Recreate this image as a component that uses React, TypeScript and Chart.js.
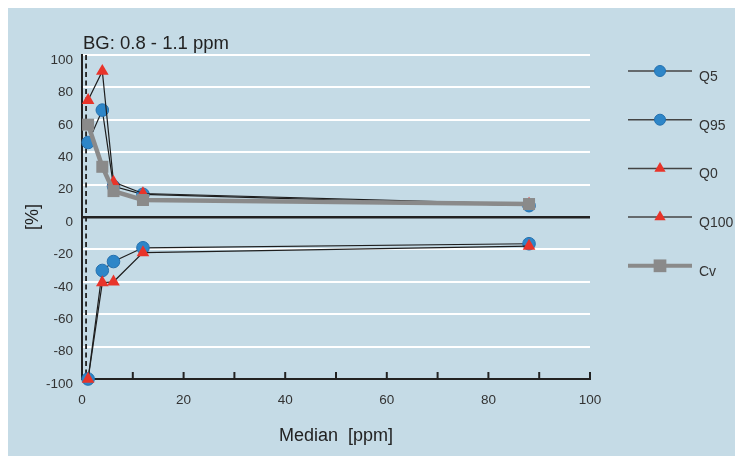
import { useEffect, useRef } from "react";
import { Chart, registerables } from "chart.js";
Chart.register(...registerables);

// ---- data ----
const medians = [1.2, 4, 6.2, 12, 88];
const q5 = [-100, -33, -27.5, -19, -16.5];
const q95 = [46, 66, 19, 14, 7];
const q0 = [-100, -40.5, -40, -22, -18];
const q100 = [72, 90, 21.5, 14.5, 8];
const cv = [57, 31, 16, 10.5, 8];
const seriesNames = ["Q5", "Q95", "Q0", "Q100", "Cv"];
const bgLow = 0.8;
const bgLabel = "BG: 0.8 - 1.1 ppm";
const xTitle = "Median  [ppm]";
const yTitle = "[%]";
const yMin = -100;
const yMax = 100;
const xMin = 0;
const xMax = 100;

const FONT = "'Liberation Sans', Arial, Helvetica, sans-serif";
const BLUE = "#2e86c8";
const BLUE_EDGE = "#2470ae";
const RED = "#e8342a";
const GREY = "#8a8a8a";
const LINE = "#1e1e1e";

const pts = (vals: number[]) => medians.map((x, i) => ({ x, y: vals[i] }));

function drawMarker(ctx: CanvasRenderingContext2D, style: string, x: number, y: number, r: number, fill: string, stroke: string, bw: number) {
  ctx.beginPath();
  if (style === "circle") {
    ctx.arc(x, y, r, 0, Math.PI * 2);
  } else if (style === "triangle") {
    ctx.moveTo(x, y - r);
    ctx.lineTo(x + r * Math.sin((2 * Math.PI) / 3), y - r * Math.cos((2 * Math.PI) / 3));
    ctx.lineTo(x + r * Math.sin((4 * Math.PI) / 3), y - r * Math.cos((4 * Math.PI) / 3));
    ctx.closePath();
  } else {
    const s = r * Math.SQRT1_2;
    ctx.rect(x - s, y - s, 2 * s, 2 * s);
  }
  ctx.fillStyle = fill;
  ctx.fill();
  if (bw > 0) {
    ctx.strokeStyle = stroke;
    ctx.lineWidth = bw;
    ctx.stroke();
  }
}

const decor = {
  id: "decor",
  beforeDatasetsDraw(chart: any) {
    const { ctx, chartArea, scales } = chart;
    const x = scales.x;
    ctx.save();
    ctx.strokeStyle = "#222";
    ctx.lineWidth = 2;
    x.ticks.forEach((t: any) => {
      if (t.value === xMin) return;
      const px = x.getPixelForValue(t.value);
      ctx.beginPath();
      ctx.moveTo(px, chartArea.bottom);
      ctx.lineTo(px, chartArea.bottom - 7);
      ctx.stroke();
    });
    const dx = x.getPixelForValue(bgLow);
    ctx.setLineDash([5, 3.5]);
    ctx.lineWidth = 1.8;
    ctx.beginPath();
    ctx.moveTo(dx, chartArea.top);
    ctx.lineTo(dx, chartArea.bottom);
    ctx.stroke();
    ctx.restore();
  },
  afterDraw(chart: any) {
    const { ctx, chartArea } = chart;
    ctx.save();
    // BG label
    ctx.font = `18.5px ${FONT}`;
    ctx.fillStyle = "#222";
    ctx.textAlign = "left";
    ctx.textBaseline = "alphabetic";
    ctx.fillText(bgLabel, chartArea.left + 1, 41);
    // legend
    const lx0 = chartArea.right + 38;
    const lx1 = chartArea.right + 102;
    const mx = (lx0 + lx1) / 2;
    chart.data.datasets.forEach((ds: any, i: number) => {
      const y = 63 + i * 48.7;
      ctx.strokeStyle = ds.label === "Cv" ? GREY : "#444";
      ctx.lineWidth = ds.label === "Cv" ? 4 : 1.5;
      ctx.beginPath();
      ctx.moveTo(lx0, y);
      ctx.lineTo(lx1, y);
      ctx.stroke();
      const r = ds.pointStyle === "circle" ? 5.5 : ds.pointStyle === "triangle" ? 6.5 : 9;
      drawMarker(ctx, ds.pointStyle, mx, y, r, ds.pointBackgroundColor, ds.pointBorderColor, ds.pointStyle === "circle" ? 1 : 0);
      ctx.font = `14px ${FONT}`;
      ctx.fillStyle = "#333";
      ctx.textBaseline = "middle";
      ctx.fillText(ds.label, lx1 + 7, y + 6);
    });
    ctx.restore();
  },
};

function makeDataset(label: string, vals: number[], style: string, order: number) {
  const isCv = style === "rect";
  const isCircle = style === "circle";
  return {
    label,
    data: pts(vals),
    showLine: true,
    borderColor: isCv ? GREY : LINE,
    borderWidth: isCv ? 4.5 : 1.2,
    pointStyle: style,
    pointRadius: isCv ? 8.5 : isCircle ? 6.3 : 7.3,
    pointBackgroundColor: isCv ? GREY : isCircle ? BLUE : RED,
    pointBorderColor: isCv ? GREY : isCircle ? BLUE_EDGE : RED,
    pointBorderWidth: isCircle ? 1 : 0,
    order,
    clip: false,
    tension: 0,
  };
}

export default function App() {
  const ref = useRef<HTMLCanvasElement | null>(null);
  useEffect(() => {
    if (!ref.current) return;
    const chart = new Chart(ref.current, {
      type: "scatter",
      data: {
        datasets: [
          makeDataset(seriesNames[0], q5, "circle", 4),
          makeDataset(seriesNames[1], q95, "circle", 3),
          makeDataset(seriesNames[2], q0, "triangle", 2),
          makeDataset(seriesNames[3], q100, "triangle", 1),
          makeDataset(seriesNames[4], cv, "rect", 0),
        ] as any,
      },
      options: {
        animation: false,
        responsive: false,
        devicePixelRatio: 1,
        layout: { padding: { top: 47, right: 145, left: 0, bottom: 0 } },
        plugins: { legend: { display: false }, tooltip: { enabled: false } },
        scales: {
          x: {
            type: "linear",
            min: xMin,
            max: xMax,
            afterFit: (s: any) => { s.height = 77; },
            ticks: {
              stepSize: 10,
              autoSkip: false,
              maxRotation: 0,
              padding: 13,
              color: "#333",
              font: { family: FONT, size: 13.5 },
              callback: (v: any) => (Number(v) % 20 === 0 ? String(v) : ""),
            },
            grid: { drawOnChartArea: false, drawTicks: false },
            border: { color: "#222", width: 2 },
            title: {
              display: true,
              text: xTitle,
              color: "#222",
              font: { family: FONT, size: 18 },
              padding: { top: 0, bottom: 9 },
            },
          },
          y: {
            type: "linear",
            min: yMin,
            max: yMax,
            afterFit: (s: any) => { s.width = 74; },
            ticks: {
              stepSize: 20,
              padding: 9,
              labelOffset: 5,
              color: "#333",
              font: { family: FONT, size: 13.5 },
            },
            grid: {
              drawTicks: false,
              color: (c: any) => (c.tick && c.tick.value === 0 ? "#222" : c.tick && c.tick.value === yMin ? "rgba(0,0,0,0)" : "#ffffff"),
              lineWidth: (c: any) => (c.tick && c.tick.value === 0 ? 2.5 : 2),
            },
            border: { color: "#222", width: 2 },
            title: {
              display: true,
              text: yTitle,
              color: "#222",
              font: { family: FONT, size: 18 },
              padding: { top: 14, bottom: 0 },
            },
          },
        },
      },
      plugins: [decor],
    } as any);
    return () => chart.destroy();
  }, []);
  return (
    <div style={{ position: "fixed", left: 8, top: 8, width: 727, height: 448, background: "#c5dbe6" }}>
      <canvas ref={ref} width={727} height={448} style={{ display: "block" }} />
    </div>
  );
}
